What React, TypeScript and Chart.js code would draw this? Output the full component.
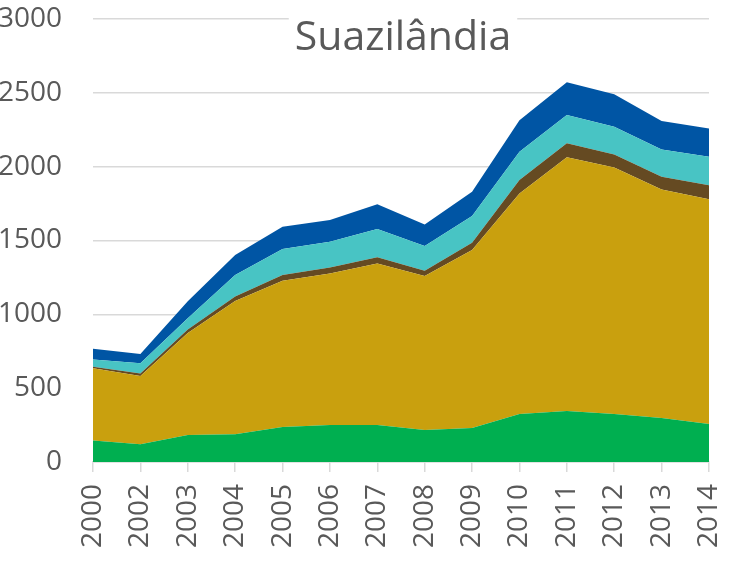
import React, { useEffect, useRef } from "react";
import { Chart, registerables } from "chart.js";

Chart.register(...registerables);

const years = ["2000", "2002", "2003", "2004", "2005", "2006", "2007", "2008", "2009", "2010", "2011", "2012", "2013", "2014"];
const green = [145, 120, 183, 188, 237, 250, 250, 217, 230, 325, 345, 325, 298, 257];
const gold = [490, 462, 690, 902, 991, 1027, 1095, 1042, 1205, 1494, 1718, 1670, 1548, 1522];
const brown = [10, 18, 25, 30, 38, 41, 41, 36, 50, 90, 95, 88, 86, 96];
const cyan = [49, 68, 75, 147, 176, 174, 192, 167, 181, 192, 192, 188, 185, 192];
const blue = [73, 63, 115, 135, 151, 146, 167, 146, 164, 214, 221, 219, 192, 191];
const yTicks = [0, 500, 1000, 1500, 2000, 2500, 3000];
const titleText = "Suazilândia";

const FONT = "'Open Sans', sans-serif";
const TEXT = "#595959";
const GRID = "#d9d9d9";

export default function App() {
  const ref = useRef<HTMLCanvasElement>(null);
  useEffect(() => {
    if (!ref.current) return;
    const mk = (label: string, data: number[], color: string, fill: any) => ({
      label,
      data,
      backgroundColor: color,
      borderColor: color,
      borderWidth: 0,
      pointRadius: 0,
      tension: 0,
      fill,
    });
    const titlePlugin = {
      id: "innerTitle",
      beforeDatasetsDraw(chart: any) {
        const { ctx, chartArea } = chart;
        ctx.save();
        ctx.font = `41px ${FONT}`;
        const w = ctx.measureText(titleText).width;
        const cx = (chartArea.left + chartArea.right) / 2 + 2;
        const cy = 38;
        ctx.fillStyle = "#ffffff";
        ctx.fillRect(cx - w / 2 - 6, cy - 26, w + 12, 52);
        ctx.fillStyle = TEXT;
        ctx.textAlign = "center";
        ctx.textBaseline = "middle";
        ctx.fillText(titleText, cx, cy);
        ctx.restore();
      },
    };
    const chart = new Chart(ref.current, {
      type: "line",
      data: {
        labels: years,
        datasets: [
          mk("A", green, "#00af50", "origin"),
          mk("B", gold, "#c9a00e", "-1"),
          mk("C", brown, "#654a22", "-1"),
          mk("D", cyan, "#48c4c4", "-1"),
          mk("E", blue, "#0055a4", "-1"),
        ],
      },
      options: {
        animation: false,
        responsive: false,
        layout: { padding: { top: 19, right: 35, left: 0, bottom: 0 } },
        plugins: { legend: { display: false }, tooltip: { enabled: false }, title: { display: false } },
        scales: {
          x: {
            grid: { drawOnChartArea: false, drawTicks: true, tickLength: 10, color: GRID, lineWidth: 1.5 },
            border: { display: true, color: GRID, width: 1.5 },
            ticks: { color: TEXT, font: { family: FONT, size: 28 }, minRotation: 90, maxRotation: 90, padding: 12, autoSkip: false },
            afterFit: (s: any) => {
              s.height = 101;
              s.paddingLeft = 0;
              s.paddingRight = 0;
            },
          },
          y: {
            stacked: true,
            min: 0,
            max: 3000,
            grid: { color: GRID, lineWidth: 1.5, drawTicks: false },
            border: { display: false },
            ticks: {
              stepSize: 500,
              color: TEXT,
              font: { family: FONT, size: 28 },
              padding: 31,
              callback: (v: any) => (yTicks.includes(Number(v)) ? String(v) : ""),
            },
            afterFit: (s: any) => {
              s.width = 93;
              s.paddingTop = 0;
              s.paddingBottom = 0;
            },
          },
        },
      },
      plugins: [titlePlugin],
    });
    return () => chart.destroy();
  }, []);
  return (
    <div style={{ position: "absolute", left: 0, top: 0, width: 744, height: 563 }}>
      <canvas ref={ref} width={744} height={563} style={{ display: "block" }} />
    </div>
  );
}
